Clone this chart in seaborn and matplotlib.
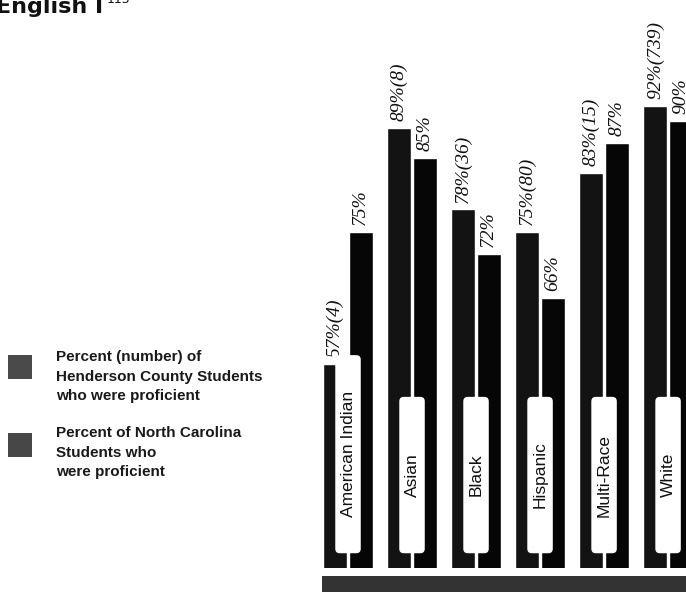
import matplotlib
matplotlib.use("Agg")
import matplotlib.pyplot as plt
from matplotlib.patches import FancyBboxPatch, Rectangle
import pandas as pd
import seaborn as sns

# Proficiency in English I by race / ethnicity
groups = ["American Indian", "Asian", "Black", "Hispanic", "Multi-Race", "White"]
county_pct = [57, 89, 78, 75, 83, 92]
county_n = [4, 8, 36, 80, 15, 739]
state_pct = [75, 85, 72, 66, 87, 90]

series = ["Percent (number) of\nHenderson County Students\nwho were proficient",
          "Percent of North Carolina\nStudents who\nwere proficient"]

df = pd.DataFrame({
    "group": groups * 2,
    "pct": county_pct + state_pct,
    "series": [series[0]] * len(groups) + [series[1]] * len(groups),
})

sns.set_theme(style="white")
plt.rcParams["font.family"] = ["Liberation Sans", "DejaVu Sans"]

W, H = 686, 592
fig = plt.figure(figsize=(W / 100, H / 100), dpi=100)
fig.patch.set_facecolor("white")

ax = fig.add_axes([300 / W, 24 / H, 386 / W, 568 / H])
bar_colors = ["#131313", "#060606"]
sns.barplot(data=df, x="group", y="pct", hue="series", palette=bar_colors,
            width=0.8, gap=0.08, saturation=1, legend=False, ax=ax)
ax.set_xlim(-0.75, 5.28)
ax.set_ylim(29.4, 106.4)
ax.set_axis_off()

# value labels above each bar
county_labels = [f"{p}%({n})" for p, n in zip(county_pct, county_n)]
state_labels = [f"{p}%" for p in state_pct]
for cont, labels in zip(ax.containers, [county_labels, state_labels]):
    ax.bar_label(cont, labels=labels, rotation=90, padding=5,
                 fontsize=14, fontstyle="italic", family="Liberation Serif",
                 color="#111111")

# rounded white name tags straddling each pair of bars
fig.canvas.draw()
renderer = fig.canvas.get_renderer()
px_per_y = ax.transData.transform((0, 1))[1] - ax.transData.transform((0, 0))[1]
px_per_x = ax.transData.transform((1, 0))[0] - ax.transData.transform((0, 0))[0]
tag_w = 25.5 / px_per_x
tag_bottom = 31.4
tag_min_h = 21.2
tag_pad = 72 / px_per_y
for i, name in enumerate(groups):
    txt = ax.text(i, 0, name, rotation=90, ha="center", va="center",
                  fontsize=12.5, color="#111111", zorder=5)
    ext = txt.get_window_extent(renderer)
    h = max(tag_min_h, ext.height / px_per_y + tag_pad)
    txt.set_y(tag_bottom + h / 2)
    box = FancyBboxPatch((i - tag_w / 2, tag_bottom), tag_w, h,
                         boxstyle=f"round,pad=0,rounding_size={4.5 / px_per_x}",
                         mutation_aspect=px_per_x / px_per_y,
                         facecolor="white", edgecolor="none", zorder=4)
    ax.add_patch(box)

# base strip under the bars
fig.add_artist(Rectangle((322 / W, 0), (W - 322) / W, 16 / H,
                         transform=fig.transFigure, facecolor="#333333",
                         edgecolor="none"))

# legend
swatch_colors = ["#4a4a4a", "#474747"]
swatch_tops = [355, 433]
text_tops = [350, 426]
for col, st, tt, lab in zip(swatch_colors, swatch_tops, text_tops, series):
    fig.add_artist(Rectangle((8 / W, 1 - (st + 24) / H), 24 / W, 24 / H,
                             transform=fig.transFigure, facecolor=col,
                             edgecolor="none"))
    fig.text(56 / W, 1 - tt / H, lab, ha="left", va="top", fontsize=11,
             fontweight="bold", color="#1a1a1a", linespacing=1.52)

# title
fig.text(103 / W, 1 - 13 / H, "English I", ha="right", va="baseline",
         fontsize=16, fontweight="bold", family="DejaVu Sans", color="#111111")
fig.text(107 / W, 1 - 3 / H, "115", ha="left", va="baseline", fontsize=9,
         family="DejaVu Sans", color="#111111")

fig.savefig("out.png", dpi=100, facecolor="white")
